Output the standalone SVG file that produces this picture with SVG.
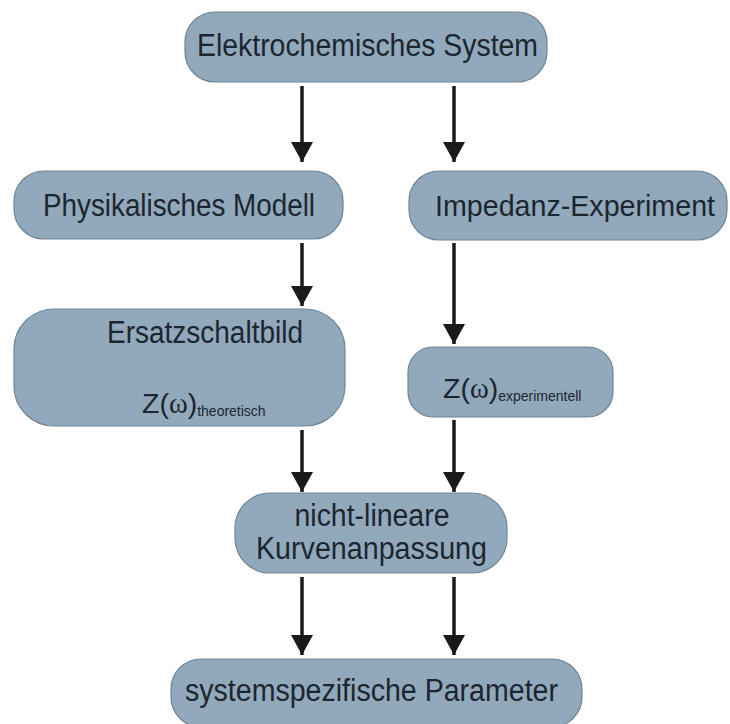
<svg xmlns="http://www.w3.org/2000/svg" width="730" height="724" viewBox="0 0 730 724">
<defs>
<style>
.box{fill:#91a9ba;stroke:#6f8596;stroke-width:1.2}
.t{font-family:"Liberation Sans",Arial,sans-serif;font-size:31px;fill:#1c2631}
.z{font-size:28.5px}
.c{text-anchor:middle}
.w{font-family:"Liberation Serif","Times New Roman",serif}
.sub{font-size:14px}
.arr{stroke:#1a1a1a;stroke-width:3.5;fill:none;marker-end:url(#ah)}
</style>
<marker id="ah" markerUnits="userSpaceOnUse" markerWidth="22" markerHeight="22" viewBox="0 0 20 22" refX="20" refY="11" orient="auto">
<path d="M0,0 L20,11 L0,22 Z" fill="#1a1a1a"/>
</marker>
</defs>
<rect width="730" height="724" fill="#ffffff"/>
<g id="connectors">
<line class="arr" x1="302" y1="86" x2="302" y2="162"/>
<line class="arr" x1="454" y1="86" x2="454" y2="162"/>
<line class="arr" x1="302" y1="243" x2="302" y2="306"/>
<line class="arr" x1="454" y1="243" x2="454" y2="344"/>
<line class="arr" x1="302" y1="430" x2="302" y2="492"/>
<line class="arr" x1="454" y1="420" x2="454" y2="492"/>
<line class="arr" x1="302" y1="577" x2="302" y2="655"/>
<line class="arr" x1="454" y1="577" x2="454" y2="655"/>
</g>
<g id="n-system">
<rect class="box" x="185" y="12" width="362" height="70" rx="30"/>
<text class="t c" x="367.5" y="56" textLength="341" lengthAdjust="spacingAndGlyphs">Elektrochemisches System</text>
</g>
<g id="n-modell">
<rect class="box" x="14" y="171" width="329" height="68" rx="30"/>
<text class="t c" x="179" y="216" textLength="272" lengthAdjust="spacingAndGlyphs">Physikalisches Modell</text>
</g>
<g id="n-experiment">
<rect class="box" x="409" y="171" width="318" height="69" rx="30"/>
<text class="t c" x="575" y="216" style="font-size:29px" textLength="280" lengthAdjust="spacingAndGlyphs">Impedanz-Experiment</text>
</g>
<g id="n-ersatz">
<rect class="box" x="14" y="309" width="331" height="117" rx="40"/>
<text class="t c" x="205" y="343" textLength="196" lengthAdjust="spacingAndGlyphs">Ersatzschaltbild</text>
<text class="t z" x="142" y="413">Z(<tspan class="w">ω</tspan>)<tspan class="sub" dy="3">theoretisch</tspan></text>
</g>
<g id="n-zexp">
<rect class="box" x="408" y="347" width="205" height="70" rx="25"/>
<text class="t z" x="443" y="398">Z(<tspan class="w">ω</tspan>)<tspan class="sub" dy="3">experimentell</tspan></text>
</g>
<g id="n-fit">
<rect class="box" x="235" y="493" width="272" height="80" rx="35"/>
<text class="t c" x="372" y="526" textLength="155" lengthAdjust="spacingAndGlyphs">nicht-lineare</text>
<text class="t c" x="371.5" y="559" textLength="231" lengthAdjust="spacingAndGlyphs">Kurvenanpassung</text>
</g>
<g id="n-param">
<rect class="box" x="171" y="659" width="411" height="68" rx="30"/>
<text class="t c" x="371.5" y="701" textLength="373" lengthAdjust="spacingAndGlyphs">systemspezifische Parameter</text>
</g>
</svg>
